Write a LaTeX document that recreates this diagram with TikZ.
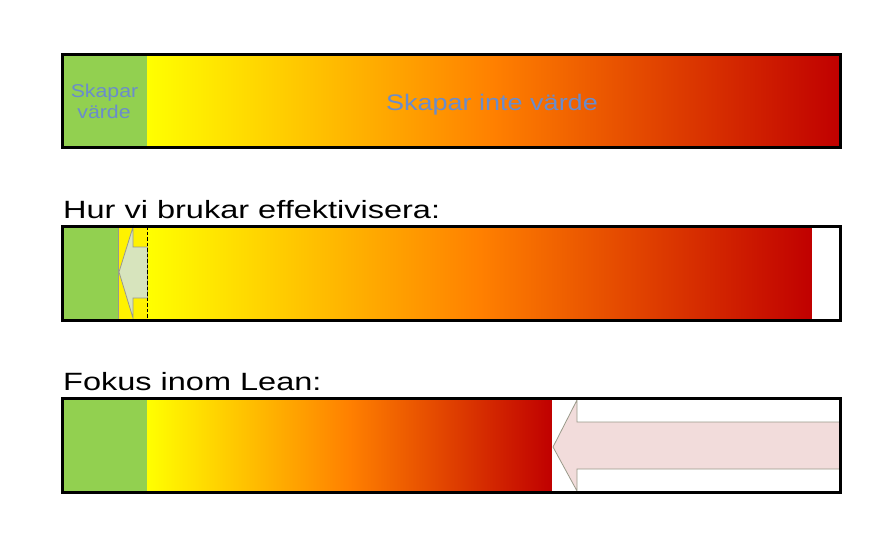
\documentclass[tikz,border=0pt]{standalone}
\usepackage{fontspec}
\setmainfont{Liberation Sans}
\definecolor{vgreen}{HTML}{92D050}
\definecolor{vorange}{HTML}{FF8000}
\definecolor{vred}{HTML}{C00000}
\definecolor{vtext}{HTML}{6A8CCC}
\definecolor{agreen}{HTML}{D7E4BD}
\definecolor{ared}{HTML}{F2DCDB}
\definecolor{aline}{HTML}{9A9A8A}
\pgfdeclarehorizontalshading{leanshade}{100bp}{color(0bp)=(yellow); color(25bp)=(yellow); color(50bp)=(vorange); color(75bp)=(vred); color(100bp)=(vred)}
\tikzset{
  barframe/.style={draw=black, line width=3pt},
  greenpart/.style={fill=vgreen},
  gradpart/.style={shading=leanshade},
  bigarrow/.style={draw=aline, line width=0.8pt},
  heading/.style={anchor=base west, inner sep=0pt, font=\fontsize{25}{30}\selectfont},
  intext/.style={text=vtext, inner sep=0pt, anchor=base},
}
\begin{document}
\begin{tikzpicture}[x=1pt, y=-1pt]
\useasboundingbox (0,0) rectangle (888,540);
% ---------- Bar 1 ----------
\fill[greenpart] (62,55) rectangle (147,148);
\shade[gradpart] (147,55) rectangle (840,148);
\draw[barframe] (62,55) rectangle (840,148);
\node[intext, font=\fontsize{18.5}{20}\selectfont] (sv1) at (104.5,98) {\scalebox{1.15}[1]{Skapar}};
\node[intext, font=\fontsize{18.5}{20}\selectfont] (sv2) at (104,119) {\scalebox{1.15}[1]{värde}};
\node[intext, font=\fontsize{22.5}{26}\selectfont] (siv) at (492,111) {\scalebox{1.2}[1]{Skapar inte värde}};
% ---------- Bar 2 ----------
\node[heading] (h2) at (63,218) {\scalebox{1.3}[1]{Hur vi brukar effektivisera:}};
\fill[greenpart] (62,226) rectangle (118,320);
\fill[yellow] (118,226) rectangle (148,320);
\draw[aline, line width=0.8pt] (118.5,226) -- (118.5,320);
\shade[gradpart] (148,226) rectangle (812,320);
\fill[white] (812,226) rectangle (840,320);
\draw[bigarrow, fill=agreen] (119,272) -- (133,227) -- (133,247) -- (147.5,247) -- (147.5,298) -- (133,298) -- (133,318) -- cycle;
\draw[black, line width=1.8pt, dash pattern=on 3.5pt off 2pt] (147.5,226) -- (147.5,320);
\draw[barframe] (62,226) rectangle (840,320);
% ---------- Bar 3 ----------
\node[heading] (h3) at (63,390) {\scalebox{1.3}[1]{Fokus inom Lean:}};
\fill[greenpart] (62,398) rectangle (147,492);
\shade[gradpart] (147,398) rectangle (552,492);
\fill[white] (552,398) rectangle (840,492);
\draw[bigarrow, fill=ared] (553,447) -- (577,400) -- (577,422) -- (840,422) -- (840,469) -- (577,469) -- (577,491) -- cycle;
\draw[barframe] (62,398) rectangle (840,492);
\end{tikzpicture}
\end{document}
